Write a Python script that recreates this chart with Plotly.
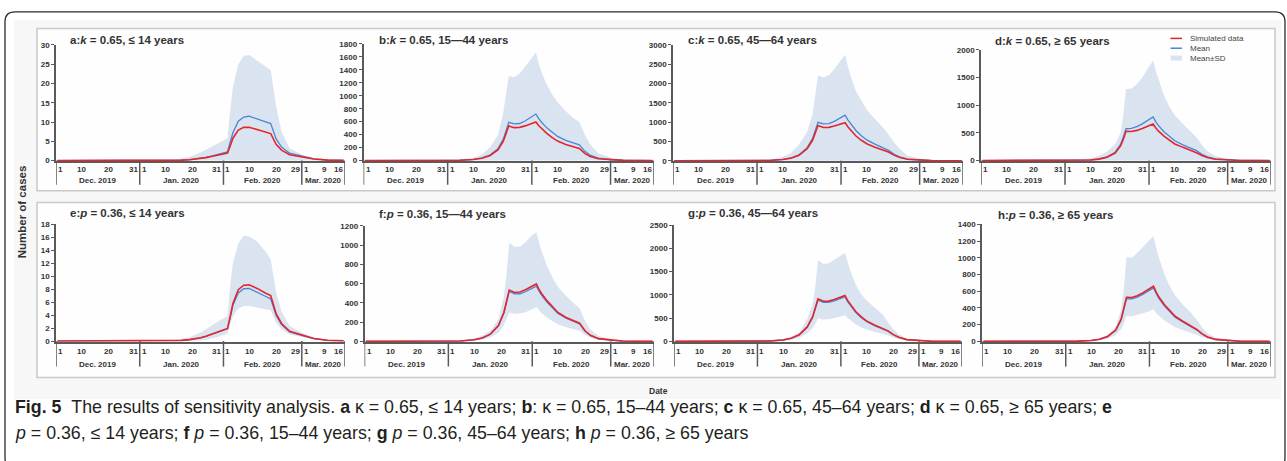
import pandas as pd
import plotly.graph_objects as go

# ---------------- data ----------------
DATES = ["2019-12-01", "2019-12-31", "2020-01-05", "2020-01-10", "2020-01-13", "2020-01-16",
         "2020-01-19", "2020-01-21", "2020-01-22", "2020-01-23", "2020-01-25", "2020-01-27",
         "2020-01-29", "2020-01-31", "2020-02-01", "2020-02-02", "2020-02-03", "2020-02-04",
         "2020-02-06", "2020-02-08", "2020-02-10", "2020-02-13", "2020-02-16", "2020-02-18",
         "2020-02-20", "2020-02-22", "2020-02-25", "2020-03-01", "2020-03-05", "2020-03-10",
         "2020-03-16"]

# Simulated data (same in both scenarios) per age group
SIM_LE14 = [0, 0, 0, 0.02, 0.05, 0.1, 0.22, 0.35, 0.42, 0.5, 0.75, 1.05, 1.35, 1.65, 1.8, 1.95,
            3.8, 5.8, 7.9, 8.6, 8.65, 8.1, 7.4, 7.0, 4.2, 2.7, 1.5, 0.85, 0.38, 0.12, 0.04]
SIM_15_44 = [0, 1, 4, 16, 35, 75, 165, 300, 410, 533, 508, 512, 535, 565, 580, 596,
             540, 495, 420, 355, 300, 248, 208, 188, 110, 63, 28, 10, 3, 1, 0]
SIM_45_64 = [0, 2, 8, 30, 65, 140, 310, 530, 700, 913, 862, 865, 898, 945, 965, 987,
             880, 790, 640, 530, 440, 350, 285, 225, 145, 88, 37, 11, 3, 1, 0]
SIM_GE65 = [0, 1, 3, 11, 25, 58, 135, 265, 380, 528, 525, 545, 580, 620, 640, 660,
            590, 530, 440, 365, 300, 238, 185, 142, 90, 53, 23, 7, 2, 0, 0]

# Mean of simulations
MEAN_A = [0, 0, 0, 0.02, 0.05, 0.11, 0.24, 0.38, 0.46, 0.55, 0.82, 1.15, 1.5, 1.85, 2.05, 2.25,
          4.8, 7.2, 10.2, 11.3, 11.5, 10.8, 10.0, 9.6, 5.6, 3.5, 1.9, 1.0, 0.45, 0.15, 0.05]
MEAN_B = [0, 1, 4, 17, 38, 82, 180, 330, 450, 590, 565, 572, 610, 665, 695, 718,
          650, 595, 505, 435, 372, 312, 268, 243, 145, 82, 37, 12, 4, 1, 0]
MEAN_C = [0, 2, 9, 33, 71, 153, 340, 580, 770, 997, 955, 962, 1020, 1100, 1145, 1183,
          1060, 960, 785, 650, 540, 430, 345, 268, 172, 102, 44, 13, 4, 1, 0]
MEAN_D = [0, 1, 3, 12, 28, 64, 150, 292, 420, 575, 580, 612, 662, 730, 760, 789,
          700, 630, 520, 432, 358, 284, 222, 178, 113, 66, 29, 9, 3, 1, 0]
MEAN_E = [0, 0, 0, 0.02, 0.05, 0.1, 0.21, 0.34, 0.41, 0.49, 0.73, 1.02, 1.31, 1.6, 1.75, 1.88,
          3.6, 5.5, 7.4, 8.05, 8.1, 7.55, 6.9, 6.5, 3.95, 2.55, 1.42, 0.8, 0.36, 0.11, 0.04]
MEAN_F = [0, 1, 4, 15, 34, 73, 160, 290, 397, 518, 493, 494, 515, 545, 560, 574,
          522, 478, 405, 342, 289, 240, 201, 181, 106, 61, 27, 9, 3, 1, 0]
MEAN_G = [0, 2, 8, 29, 63, 136, 300, 515, 680, 885, 838, 840, 872, 917, 937, 958,
          855, 768, 622, 515, 428, 340, 277, 219, 141, 86, 36, 11, 3, 1, 0]
MEAN_H = [0, 1, 3, 11, 24, 56, 130, 256, 368, 510, 508, 528, 562, 600, 620, 640,
          572, 514, 426, 353, 290, 230, 179, 138, 87, 51, 22, 7, 2, 0, 0]

# Mean + SD (upper edge of the band)
UPPER_A = [0, 0, 0, 0.1, 0.2, 0.5, 1.0, 1.5, 1.8, 2.1, 2.8, 3.5, 4.3, 5.0, 5.4, 5.8,
           13.0, 19.0, 25.0, 27.2, 27.4, 26.0, 24.5, 23.5, 14.0, 7.5, 3.2, 1.4, 0.6, 0.2, 0.1]
UPPER_B = [0, 4, 12, 45, 95, 200, 390, 740, 1050, 1305, 1285, 1340, 1450, 1570, 1620, 1670,
           1500, 1370, 1170, 1020, 900, 760, 650, 600, 400, 250, 110, 40, 15, 4, 1]
UPPER_C = [0, 8, 25, 100, 200, 420, 750, 1200, 1650, 2214, 2160, 2220, 2380, 2570, 2660, 2746,
           2450, 2200, 1800, 1560, 1320, 1080, 860, 680, 480, 320, 130, 42, 15, 4, 1]
UPPER_D = [0, 4, 12, 45, 85, 160, 300, 500, 820, 1288, 1300, 1380, 1500, 1660, 1730, 1810,
           1620, 1460, 1180, 970, 820, 660, 510, 420, 280, 170, 80, 30, 10, 3, 1]
UPPER_E = [0, 0, 0, 0.05, 0.15, 0.3, 0.6, 0.9, 1.1, 1.3, 1.8, 2.4, 2.9, 3.4, 3.6, 3.8,
           8.5, 12.0, 15.0, 16.2, 16.1, 15.3, 13.8, 12.6, 7.5, 4.5, 2.3, 1.2, 0.5, 0.2, 0.1]
UPPER_F = [0, 2, 8, 30, 60, 110, 230, 460, 700, 1027, 980, 985, 1030, 1090, 1110, 1132,
           1030, 930, 780, 660, 565, 470, 390, 345, 215, 120, 55, 18, 5, 1, 0]
UPPER_G = [0, 4, 15, 50, 95, 190, 480, 800, 1180, 1746, 1661, 1680, 1760, 1830, 1865, 1900,
           1700, 1520, 1220, 1020, 880, 730, 580, 410, 260, 150, 58, 16, 5, 1, 0]
UPPER_H = [0, 2, 6, 20, 38, 80, 175, 380, 620, 1007, 1000, 1060, 1130, 1200, 1230, 1262,
           1120, 1000, 810, 660, 550, 435, 335, 260, 165, 98, 45, 15, 4, 1, 0]

# Mean - SD (lower edge of the band; top-row lower edge is 0)
LOWER_E = [0, 0, 0, 0, 0, 0, 0, 0.05, 0.08, 0.1, 0.2, 0.35, 0.6, 0.9, 1.0, 1.1,
           2.6, 3.8, 5.0, 5.4, 5.4, 5.2, 4.9, 4.7, 2.8, 1.8, 1.0, 0.6, 0.25, 0.08, 0.02]
LOWER_F = [0, 0, 2, 8, 18, 40, 90, 170, 235, 299, 286, 288, 302, 322, 340, 357,
           322, 292, 245, 206, 176, 146, 122, 110, 66, 37, 16, 5, 1, 0, 0]
LOWER_G = [0, 1, 4, 15, 32, 70, 175, 280, 380, 493, 470, 475, 500, 525, 545, 563,
           500, 450, 365, 305, 255, 205, 165, 130, 82, 48, 20, 6, 2, 0, 0]
LOWER_H = [0, 0, 2, 7, 14, 32, 72, 145, 210, 302, 300, 315, 335, 355, 370, 384,
           340, 305, 250, 205, 168, 132, 102, 80, 50, 30, 12, 4, 1, 0, 0]

TITLES = ["a:<i>k</i> = 0.65, ≤ 14 years", "b:<i>k</i> = 0.65, 15—44 years",
          "c:<i>k</i> = 0.65, 45—64 years", "d:<i>k</i> = 0.65, ≥ 65 years",
          "e:<i>p</i> = 0.36, ≤ 14 years", "f:<i>p</i> = 0.36, 15—44 years",
          "g:<i>p</i> = 0.36, 45—64 years", "h:<i>p</i> = 0.36, ≥ 65 years"]
Y_MAX = [30, 1800, 3000, 2000, 18, 1200, 2500, 1400]
Y_STEP = [5, 200, 500, 500, 2, 200, 500, 200]

TICK_DATES = ["2019-12-01", "2019-12-10", "2019-12-20", "2019-12-31",
              "2020-01-01", "2020-01-10", "2020-01-20", "2020-01-31",
              "2020-02-01", "2020-02-10", "2020-02-20", "2020-02-29",
              "2020-03-01", "2020-03-09", "2020-03-16"]
MONTH_LABELS = ["Dec. 2019", "Jan. 2020", "Feb. 2020", "Mar. 2020"]
MONTH_STARTS = ["2019-12-01", "2020-01-01", "2020-02-01", "2020-03-01"]
END_DATE = "2020-03-16"

LEGEND_NAMES = ["Simulated data", "Mean", "Mean±SD"]

CAPTION_1 = ("<b>Fig. 5</b>\u00a0\u00a0The results of sensitivity analysis. <b>a</b> κ = 0.65, ≤ 14 years; "
             "<b>b</b>: κ = 0.65, 15–44 years; <b>c</b> κ = 0.65, 45–64 years; "
             "<b>d</b> κ = 0.65, ≥ 65 years; <b>e</b>")
CAPTION_2 = ("<i>p</i> = 0.36, ≤ 14 years; <b>f</b> <i>p</i> = 0.36, 15–44 years; "
             "<b>g</b> <i>p</i> = 0.36, 45–64 years; <b>h</b> <i>p</i> = 0.36, ≥ 65 years")

SIM = [SIM_LE14, SIM_15_44, SIM_45_64, SIM_GE65] * 2
MEAN = [MEAN_A, MEAN_B, MEAN_C, MEAN_D, MEAN_E, MEAN_F, MEAN_G, MEAN_H]
UPPER = [UPPER_A, UPPER_B, UPPER_C, UPPER_D, UPPER_E, UPPER_F, UPPER_G, UPPER_H]
LOWER = [None, None, None, None, LOWER_E, LOWER_F, LOWER_G, LOWER_H]

# ---------------- geometry / style ----------------
W, H = 1287, 461
ORIGIN = pd.Timestamp("2019-12-01")


def day_idx(dates):
    return [(pd.Timestamp(d) - ORIGIN).days for d in dates]


X = day_idx(DATES)
N_DAYS = day_idx([END_DATE])[0] + 1


def px(x):
    return x / W


def py(y):
    return 1 - y / H


X_SPANS = [(56, 345), (363.5, 654), (673, 963), (981, 1271),
           (56, 345), (364.5, 654), (674, 962), (982, 1271)]
Y_SPANS = [(41.7, 159.3), (40.7, 159.3), (41.7, 159.5), (46.7, 159.3),
           (224.0, 343.0), (225.7, 343.3), (225.0, 343.3), (224.3, 343.3)]
SEP_BOTTOM = [184, 369]
DATE_Y = [168.3, 354.0]
MONTH_Y = [179.5, 366.5]
TITLE_POS = [(68, 36.5), (377, 37), (686, 37), (993, 38),
             (68, 213), (377, 214), (686, 213), (996, 215)]

RED = "#e4262c"
BLUE = "#4a86d4"
BAND = "#dae3f0"
AXIS = "#5a5a5a"
TXT = "#333333"
FONT = "Liberation Sans, Arial, sans-serif"
TICK_SIZE = 8

fig = go.Figure()
layout = dict(width=W, height=H, autosize=False, margin=dict(l=0, r=0, t=0, b=0),
              paper_bgcolor="white", plot_bgcolor="rgba(0,0,0,0)", showlegend=False,
              font=dict(family=FONT, color=TXT))
shapes, annotations = [], []

# background panels
shapes.append(dict(type="rect", xref="paper", yref="paper", x0=px(14), x1=px(1281), y0=py(402), y1=py(16),
                   fillcolor="#f7f7f7", line=dict(width=0), layer="below"))
for (t, b) in [(25, 190), (202, 380)]:
    shapes.append(dict(type="rect", xref="paper", yref="paper", x0=px(37), x1=px(1275), y0=py(b), y1=py(t),
                       fillcolor="#fefefe", line=dict(color="#c9c9c9", width=1.5), layer="below"))

# rounded frame (bottom edge lies just below the visible page)
r = 10
fx0, fy0, fx1, fy1 = 5, 8, 1285, 472


def P(x, y):
    return f"{px(x):.6f},{py(y):.6f}"


frame = (f"M {P(fx0, fy1 - r)} L {P(fx0, fy0 + r)} Q {P(fx0, fy0)} {P(fx0 + r, fy0)} "
         f"L {P(fx1 - r, fy0)} Q {P(fx1, fy0)} {P(fx1, fy0 + r)} L {P(fx1, fy1 - r)} "
         f"Q {P(fx1, fy1)} {P(fx1 - r, fy1)} L {P(fx0 + r, fy1)} Q {P(fx0, fy1)} {P(fx0, fy1 - r)} Z")
shapes.append(dict(type="path", xref="paper", yref="paper", path=frame, line=dict(color="#2b2b2b", width=1.3)))

tick_idx = day_idx(TICK_DATES)
tick_ts = [pd.Timestamp(d) for d in TICK_DATES]
month_start_idx = day_idx(MONTH_STARTS)
bounds = [s - 0.5 for s in month_start_idx] + [N_DAYS - 0.5]

for i in range(8):
    n = i + 1
    row = 0 if i < 4 else 1
    xr = "x" if n == 1 else f"x{n}"
    yr = "y" if n == 1 else f"y{n}"
    xname = "xaxis" if n == 1 else f"xaxis{n}"
    yname = "yaxis" if n == 1 else f"yaxis{n}"
    x0, x1 = X_SPANS[i]
    ytop, ybot = Y_SPANS[i]
    ymax = Y_MAX[i]
    lo = -0.006 * ymax
    dom_bot = ybot + (0 - lo) * (ybot - ytop) / ymax

    layout[xname] = dict(domain=[px(x0), px(x1)], range=[-0.5, N_DAYS - 0.5], anchor=yr,
                         showline=True, linecolor=AXIS, linewidth=1.5, ticks="", showticklabels=False,
                         showgrid=False, zeroline=False, fixedrange=True, layer="below traces")
    layout[yname] = dict(domain=[py(dom_bot), py(ytop)], range=[lo, ymax], anchor=xr,
                         showline=True, linecolor=AXIS, linewidth=1.5, ticks="outside", ticklen=3,
                         tickwidth=1, tickcolor=AXIS, tick0=0, dtick=Y_STEP[i],
                         tickfont=dict(family=FONT, size=TICK_SIZE, color=TXT, weight="bold"),
                         showgrid=False, zeroline=False, fixedrange=True, layer="below traces")

    # band
    if LOWER[i] is None:
        fig.add_trace(go.Scatter(x=X, y=UPPER[i], xaxis=xr, yaxis=yr, mode="lines", line=dict(width=0),
                                 fill="tozeroy", fillcolor=BAND, name=LEGEND_NAMES[2], hoverinfo="skip"))
    else:
        fig.add_trace(go.Scatter(x=X, y=LOWER[i], xaxis=xr, yaxis=yr, mode="lines", line=dict(width=0),
                                 name=LEGEND_NAMES[2], hoverinfo="skip"))
        fig.add_trace(go.Scatter(x=X, y=UPPER[i], xaxis=xr, yaxis=yr, mode="lines", line=dict(width=0),
                                 fill="tonexty", fillcolor=BAND, name=LEGEND_NAMES[2], hoverinfo="skip"))
    fig.add_trace(go.Scatter(x=X, y=MEAN[i], xaxis=xr, yaxis=yr, mode="lines",
                             line=dict(color=BLUE, width=1.3), name=LEGEND_NAMES[1]))
    fig.add_trace(go.Scatter(x=X, y=SIM[i], xaxis=xr, yaxis=yr, mode="lines",
                             line=dict(color=RED, width=1.6), name=LEGEND_NAMES[0]))

    # month separators
    for bx in bounds:
        shapes.append(dict(type="line", xref=xr, yref="paper", x0=bx, x1=bx, y0=py(ybot),
                           y1=py(SEP_BOTTOM[row]), line=dict(color=AXIS, width=1.5)))
    # date tick labels
    for ts, di in zip(tick_ts, tick_idx):
        if ts.day == 1:
            xpos, anc = di - 0.5, "left"
        elif ts.is_month_end or di == N_DAYS - 1:
            xpos, anc = di + 0.5, "right"
        else:
            xpos, anc = di, "center"
        annotations.append(dict(x=xpos, y=py(DATE_Y[row]), xref=xr, yref="paper", text=str(ts.day),
                                xanchor=anc, yanchor="middle", showarrow=False,
                                font=dict(family=FONT, size=TICK_SIZE, color=TXT, weight="bold")))
    # month labels
    for m, lab in enumerate(MONTH_LABELS):
        annotations.append(dict(x=(bounds[m] + bounds[m + 1]) / 2, y=py(MONTH_Y[row]), xref=xr, yref="paper",
                                text=lab, xanchor="center", yanchor="middle", showarrow=False,
                                font=dict(family=FONT, size=TICK_SIZE, color=TXT, weight="bold")))
    # panel title
    tx, ty = TITLE_POS[i]
    annotations.append(dict(x=px(tx), y=py(ty), xref="paper", yref="paper", text=TITLES[i],
                            xanchor="left", yanchor="middle", showarrow=False,
                            font=dict(family=FONT, size=11.5, color=TXT, weight="bold")))

# custom legend (panel d)
for k, (yy, col) in enumerate([(35, RED), (45, BLUE)]):
    shapes.append(dict(type="line", xref="paper", yref="paper", x0=px(1170.5), x1=px(1182), y0=py(yy), y1=py(yy),
                       line=dict(color=col, width=1.5)))
shapes.append(dict(type="rect", xref="paper", yref="paper", x0=px(1170.5), x1=px(1182), y0=py(57.5), y1=py(52.5),
                   fillcolor=BAND, line=dict(width=0)))
for k, yy in enumerate([35, 45, 55]):
    annotations.append(dict(x=px(1188), y=py(yy), xref="paper", yref="paper", text=LEGEND_NAMES[k],
                            xanchor="left", yanchor="middle", showarrow=False,
                            font=dict(family=FONT, size=8, color="#444444")))

# axis titles
annotations.append(dict(x=px(22), y=py(212), xref="paper", yref="paper", text="<b>Number of cases</b>",
                        textangle=-90, xanchor="center", yanchor="middle", showarrow=False,
                        font=dict(family=FONT, size=11.5, color=TXT)))
annotations.append(dict(x=px(658), y=py(394), xref="paper", yref="paper", text="<b>Date</b>",
                        xanchor="center", yanchor="middle", showarrow=False,
                        font=dict(family=FONT, size=8.5, color=TXT)))

# caption
for txt, yy in [(CAPTION_1, 410), (CAPTION_2, 437)]:
    annotations.append(dict(x=px(13), y=py(yy), xref="paper", yref="paper", text=txt,
                            xanchor="left", yanchor="middle", showarrow=False,
                            font=dict(family=FONT, size=17.8, color="#231f20")))

layout["shapes"] = shapes
layout["annotations"] = annotations
fig.update_layout(**layout)
fig.write_html("out.html")
